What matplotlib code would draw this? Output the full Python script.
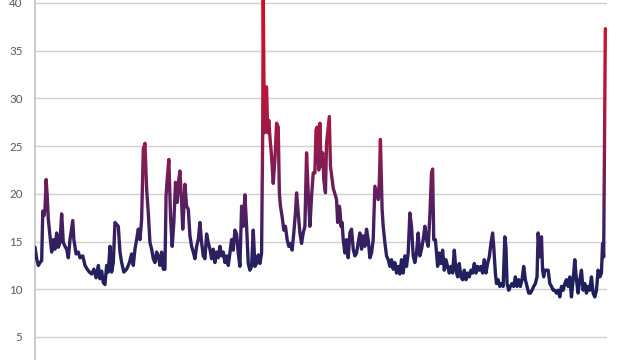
import matplotlib
matplotlib.use("Agg")
import matplotlib.pyplot as plt
from matplotlib.colors import LinearSegmentedColormap
from matplotlib.transforms import Bbox, TransformedBbox, IdentityTransform
import numpy as np

# trading-day index (approx. Jan 2014 .. Feb 2018) and index level
day = [0, 3, 6, 9, 12, 14, 16, 18, 20, 22, 24, 27, 30, 33, 36, 39, 42, 45, 48, 51,
       54, 57, 60, 63, 68, 70, 74, 78, 81, 86, 90, 94, 98, 102, 106, 110, 114, 117, 120, 123,
       126, 129, 132, 135, 138, 141, 144, 147, 150, 153, 156, 160, 165, 170, 174, 177, 180, 183, 186, 189,
       192, 195, 198, 201, 204, 207, 210, 213, 216, 219, 222, 225, 228, 231, 234, 236, 238, 241, 244, 247,
       250, 253, 256, 259, 261, 264, 266, 268, 270, 273, 276, 279, 282, 285, 288, 291, 294, 297, 300, 303,
       306, 309, 312, 315, 318, 321, 324, 327, 330, 333, 336, 339, 342, 345, 348, 351, 354, 357, 360, 363,
       366, 369, 372, 375, 378, 381, 384, 387, 390, 393, 396, 399, 402, 405, 408, 410, 411, 413, 415, 417,
       419, 421, 423, 426, 429, 432, 435, 438, 440, 442, 445, 448, 451, 454, 457, 460, 463, 466, 469, 471,
       474, 477, 480, 483, 486, 489, 492, 495, 498, 501, 504, 506, 508, 511, 513, 515, 518, 520, 523, 525,
       527, 530, 532, 535, 537, 540, 543, 545, 548, 549, 551, 553, 555, 558, 561, 564, 567, 570, 573, 576,
       579, 582, 585, 588, 591, 594, 597, 600, 603, 606, 609, 612, 615, 618, 620, 622, 625, 627, 630, 633,
       636, 639, 642, 645, 648, 651, 654, 657, 660, 663, 666, 669, 672, 675, 678, 681, 684, 687, 690, 693,
       696, 699, 702, 705, 708, 711, 714, 716, 718, 721, 723, 725, 728, 731, 734, 737, 740, 743, 746, 749,
       752, 755, 758, 761, 764, 767, 770, 773, 776, 779, 782, 785, 788, 791, 794, 797, 800, 803, 806, 809,
       812, 815, 818, 821, 824, 826, 829, 831, 834, 837, 840, 843, 846, 848, 850, 853, 856, 859, 862, 865,
       868, 871, 874, 877, 880, 883, 886, 889, 892, 895, 898, 901, 904, 906, 909, 912, 914, 916, 918, 921,
       924, 927, 930, 933, 936, 939, 942, 945, 948, 951, 954, 957, 960, 963, 966, 969, 972, 975, 978, 981,
       984, 987, 990, 993, 996, 999, 1002, 1005, 1008, 1011, 1014, 1017, 1020, 1022, 1024, 1027]

vix = [14.4, 13.2, 12.5, 12.8, 13.0, 18.2, 17.7, 18.4, 21.5, 19.8, 17.3, 15.6, 13.9, 15.2, 14.2, 15.9, 14.4, 14.9, 17.9, 14.9,
       14.5, 14.2, 13.3, 15.2, 17.2, 15.2, 13.7, 13.9, 13.3, 13.5, 12.5, 12.1, 11.8, 11.6, 12.1, 11.2, 12.5, 11.1, 11.9, 10.7,
       10.5, 12.5, 11.8, 14.5, 11.8, 12.8, 17.0, 16.8, 16.6, 13.9, 12.8, 11.8, 12.1, 12.8, 13.7, 12.5, 14.2, 15.2, 16.3, 15.2,
       17.3, 24.7, 25.3, 20.5, 18.0, 14.9, 14.2, 13.2, 12.8, 13.9, 13.5, 12.5, 13.9, 12.1, 12.1, 19.8, 21.5, 23.6, 17.7, 14.5,
       17.0, 21.2, 19.1, 21.5, 22.4, 19.1, 16.3, 18.4, 21.0, 18.7, 18.4, 15.6, 14.5, 13.9, 13.2, 14.5, 15.2, 17.0, 14.9, 13.5,
       13.2, 15.8, 14.9, 14.2, 13.2, 14.2, 12.8, 13.9, 13.3, 14.5, 13.5, 13.9, 12.8, 13.5, 12.5, 13.8, 15.2, 14.1, 16.2, 15.8,
       13.8, 12.4, 18.7, 16.6, 19.9, 16.6, 12.7, 12.0, 12.4, 16.2, 12.4, 12.7, 13.6, 12.7, 13.8, 26.4, 40.7, 26.4, 31.2, 31.2,
       26.4, 27.7, 26.0, 23.9, 21.1, 23.6, 27.4, 27.0, 20.1, 18.7, 17.6, 16.2, 16.6, 15.2, 14.5, 14.8, 14.1, 15.9, 18.0, 20.1,
       18.0, 15.9, 14.8, 15.9, 16.6, 24.3, 20.1, 16.6, 19.7, 22.2, 22.2, 26.7, 27.0, 22.5, 27.4, 22.9, 24.3, 21.5, 20.1, 25.3,
       26.4, 28.1, 22.9, 21.5, 20.6, 20.0, 19.4, 17.0, 18.7, 18.4, 16.6, 17.0, 15.2, 13.8, 15.2, 13.3, 15.9, 16.3, 14.2, 13.5,
       13.8, 14.9, 15.9, 14.2, 15.6, 14.5, 16.3, 15.2, 13.3, 13.8, 15.2, 20.8, 20.1, 19.4, 21.2, 25.7, 18.4, 16.6, 14.9, 13.5,
       13.1, 12.4, 13.1, 12.1, 12.8, 11.7, 12.4, 11.6, 13.1, 11.7, 13.5, 12.4, 13.8, 18.0, 16.6, 13.5, 12.8, 13.8, 15.9, 13.5,
       14.2, 15.2, 16.6, 15.2, 14.5, 17.7, 22.2, 22.6, 15.2, 15.2, 13.8, 12.4, 13.8, 12.7, 14.1, 12.0, 13.1, 12.4, 11.7, 12.4,
       11.7, 14.1, 12.0, 11.3, 12.7, 11.3, 11.0, 12.0, 11.0, 11.7, 11.3, 12.0, 11.7, 12.7, 11.7, 12.4, 12.0, 12.4, 11.7, 13.1,
       11.7, 12.7, 13.4, 14.8, 15.9, 14.5, 11.7, 10.6, 11.0, 10.3, 10.6, 10.3, 15.5, 14.5, 10.6, 9.9, 10.3, 10.6, 10.3, 11.3,
       10.3, 11.0, 10.3, 11.0, 12.4, 11.0, 10.3, 9.6, 9.6, 9.9, 10.3, 10.6, 11.3, 15.9, 13.4, 15.5, 12.0, 11.3, 12.0, 12.0,
       12.0, 10.6, 10.3, 9.9, 9.9, 9.6, 9.9, 9.2, 10.3, 9.9, 10.6, 11.0, 10.3, 11.3, 9.2, 11.0, 13.1, 11.0, 9.6, 11.0,
       12.0, 9.9, 10.6, 9.6, 10.3, 9.9, 11.3, 9.6, 9.2, 9.9, 12.0, 11.3, 11.7, 14.8, 13.4, 37.3]

y_ticks = [5, 10, 15, 20, 25, 30, 35, 40]

W, H, DPI = 640, 360, 100
fig = plt.figure(figsize=(W / DPI, H / DPI), dpi=DPI)
ax = fig.add_axes([35 / W, 0.0, 572 / W, 1.0])
ax.set_xlim(0, 1030)
ax.set_ylim(2.59, 40.31)

ax.set_yticks(y_ticks)
ax.set_yticklabels([str(t) for t in y_ticks])
ax.set_xticks([])
ax.tick_params(axis="y", length=0, pad=9, labelsize=8.3, labelcolor="#595959")
for lab in ax.get_yticklabels():
    lab.set_family(["Lato", "DejaVu Sans"])
ax.grid(axis="y", color="#d0d0d0", linewidth=1.0)
ax.set_axisbelow(True)
for s in ["top", "right", "bottom"]:
    ax.spines[s].set_visible(False)
ax.spines["left"].set_color("#c4c4c4")
ax.spines["left"].set_linewidth(1.2)

cmap = LinearSegmentedColormap.from_list(
    "vgrad",
    [(0.0, "#1b1d5a"), (0.10, "#23205e"), (0.20, "#361f61"), (0.35, "#621f5d"),
     (0.51, "#961a4c"), (0.67, "#b5163c"), (0.89, "#cc0f2c"), (1.0, "#d80a20")])
vmin, vmax = 9.0, 40.5

fig.canvas.draw()
inv = ax.transData.inverted()
for row in range(H):
    yc = row + 0.5
    v = inv.transform((0, yc))[1]
    c = cmap(np.clip((v - vmin) / (vmax - vmin), 0, 1))
    ln, = ax.plot(day, vix, color=c, linewidth=2.4, solid_joinstyle="round",
                  solid_capstyle="round", zorder=3)
    ln.set_clip_box(TransformedBbox(Bbox([[35, row], [W, row + 1]]), IdentityTransform()))

fig.savefig("out.png", dpi=DPI)
